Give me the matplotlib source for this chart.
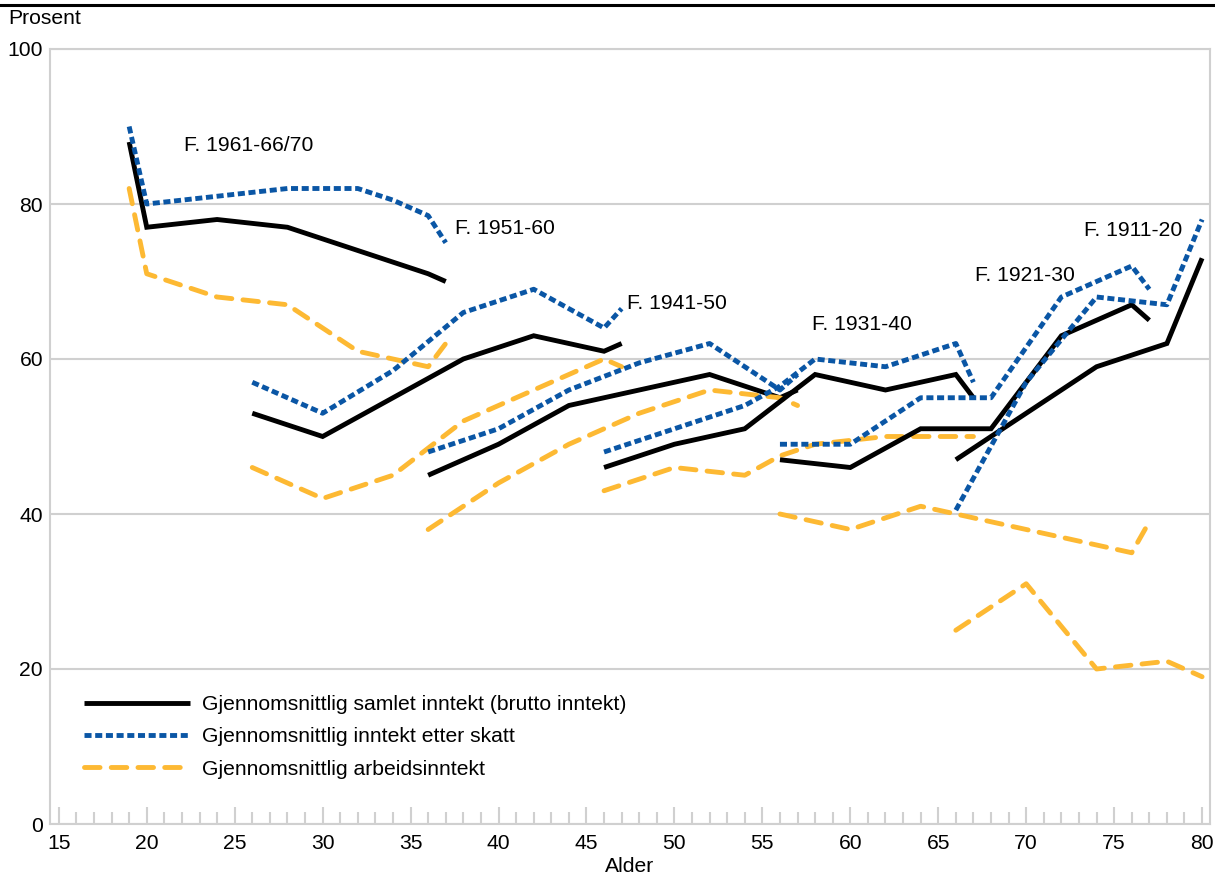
import matplotlib
matplotlib.use("Agg")
import matplotlib.pyplot as plt
from matplotlib.lines import Line2D
from matplotlib.ticker import MultipleLocator

plt.rcParams['font.family'] = ['Liberation Sans', 'DejaVu Sans']
plt.rcParams['font.size'] = 15.2

# kohorter: alder og prosent (brutto, etter skatt, arbeidsinntekt)
ages_1961 = [19, 20, 24, 28, 32, 34, 36, 37]
brutto_1961 = [88, 77, 78, 77, 74, 72.5, 71, 70]
skatt_1961 = [90, 80, 81, 82, 82, 80.5, 78.5, 75]
arbeid_1961 = [82, 71, 68, 67, 61, 60, 59, 62]

ages_1951 = [26, 30, 34, 38, 42, 46, 47]
brutto_1951 = [53, 50, 55, 60, 63, 61, 62]
skatt_1951 = [57, 53, 58.5, 66, 69, 64, 66.5]
arbeid_1951 = [46, 42, 45, 52, 56, 60, 59]

ages_1941 = [36, 40, 44, 48, 52, 56, 57]
brutto_1941 = [45, 49, 54, 56, 58, 55, 56]
skatt_1941 = [48, 51, 56, 59.5, 62, 56, 58]
arbeid_1941 = [38, 44, 49, 53, 56, 55, 54]

ages_1931 = [46, 50, 54, 56, 58, 62, 66, 67]
brutto_1931 = [46, 49, 51, 54.5, 58, 56, 58, 55]
skatt_1931 = [48, 51, 54, 56.5, 60, 59, 62, 57]
arbeid_1931 = [43, 46, 45, 47.5, 49, 50, 50, 50]

ages_1921 = [56, 60, 64, 68, 72, 76, 77]
brutto_1921 = [47, 46, 51, 51, 63, 67, 65]
skatt_1921 = [49, 49, 55, 55, 68, 72, 69]
arbeid_1921 = [40, 38, 41, 39, 37, 35, 39]

ages_1911 = [66, 70, 74, 78, 80]
brutto_1911 = [47, 53, 59, 62, 73]
skatt_1911 = [40.5, 57, 68, 67, 78]
arbeid_1911 = [25, 31, 20, 21, 19]

cohort_labels = ["F. 1961-66/70", "F. 1951-60", "F. 1941-50", "F. 1931-40", "F. 1921-30", "F. 1911-20"]
label_pos = [(22.1, 87.6), (37.5, 76.8), (47.3, 67.2), (57.8, 64.5), (67.1, 70.8), (73.3, 76.6)]

series_names = ["Gjennomsnittlig samlet inntekt (brutto inntekt)",
                "Gjennomsnittlig inntekt etter skatt",
                "Gjennomsnittlig arbeidsinntekt"]

cohorts = [
    (ages_1961, brutto_1961, skatt_1961, arbeid_1961),
    (ages_1951, brutto_1951, skatt_1951, arbeid_1951),
    (ages_1941, brutto_1941, skatt_1941, arbeid_1941),
    (ages_1931, brutto_1931, skatt_1931, arbeid_1931),
    (ages_1921, brutto_1921, skatt_1921, arbeid_1921),
    (ages_1911, brutto_1911, skatt_1911, arbeid_1911),
]

black = "#000000"
blue = "#0a56a5"
yellow = "#fdb933"
grid_col = "#d0d0d0"
lw = 3.5

styles = [
    dict(color=black, lw=lw, solid_capstyle="butt", solid_joinstyle="miter"),
    dict(color=blue, lw=lw, dashes=(1.45, 0.75), dash_capstyle="butt"),
    dict(color=yellow, lw=lw, dashes=(3.2, 2.3), dash_capstyle="round"),
]

fig = plt.figure(figsize=(12.15, 8.75), dpi=100)
ax = fig.add_axes([50 / 1215, 1 - 824 / 875, 1160 / 1215, 775 / 875])

for ages, br, sk, ar in cohorts:
    ax.plot(ages, br, **styles[0], clip_on=False)
    ax.plot(ages, sk, **styles[1], clip_on=False)
    ax.plot(ages, ar, **styles[2], clip_on=False)

for txt, (x, y) in zip(cohort_labels, label_pos):
    ax.text(x, y, txt, ha="left", va="center")

ax.set_xlim(14.5, 80.45)
ax.set_ylim(0, 100)
ax.xaxis.set_major_locator(MultipleLocator(5))
ax.xaxis.set_minor_locator(MultipleLocator(1))
ax.set_yticks([0, 20, 40, 60, 80, 100])
ax.yaxis.grid(True, color=grid_col, lw=1.5)
ax.set_axisbelow(True)
for s in ax.spines.values():
    s.set_color(grid_col)
    s.set_linewidth(1.5)
ax.tick_params(axis="x", which="major", direction="in", length=12, width=1.5, color=grid_col, pad=7)
ax.tick_params(axis="x", which="minor", direction="in", length=9, width=1.5, color=grid_col)
ax.tick_params(axis="y", length=0, pad=5)

handles = [Line2D([], [], **st) for st in styles]
ax.legend(handles, series_names, loc="upper left", bbox_to_anchor=(0.0293, 0.166),
          frameon=False, handlelength=5, handletextpad=0.6, labelspacing=0.62,
          borderpad=0, borderaxespad=0)

fig.text(8 / 1215, 1 - 18 / 875, "Prosent", ha="left", va="center")
fig.text(630 / 1215, 1 - 866 / 875, "Alder", ha="center", va="center")
fig.add_artist(Line2D([0, 1], [1 - 5 / 875, 1 - 5 / 875], color="black", lw=2.2, transform=fig.transFigure))

fig.savefig("out.png", dpi=100)
